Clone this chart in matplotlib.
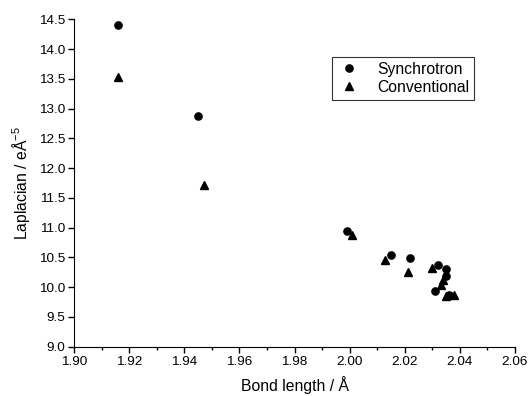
import matplotlib
matplotlib.use('Agg')
import matplotlib.pyplot as plt
from matplotlib.ticker import MultipleLocator

plt.rcParams['font.family'] = ['Liberation Sans', 'DejaVu Sans']
plt.rcParams['mathtext.fontset'] = 'custom'
plt.rcParams['mathtext.rm'] = 'Liberation Sans'

# Synchrotron data (circles)
sync_x = [1.916, 1.945, 1.999, 2.015, 2.022, 2.032, 2.035, 2.035, 2.031, 2.036]
sync_y = [14.41, 12.88, 10.95, 10.54, 10.49, 10.38, 10.30, 10.18, 9.94, 9.87]

# Conventional data (triangles)
conv_x = [1.916, 1.947, 2.001, 2.013, 2.021, 2.030, 2.034, 2.033, 2.035, 2.038]
conv_y = [13.53, 11.71, 10.88, 10.46, 10.25, 10.32, 10.12, 10.04, 9.86, 9.87]

fig = plt.figure(figsize=(5.29, 3.96), dpi=100)
ax = fig.add_axes([0.140, 0.1245, 0.8335, 0.8265])

ax.plot(sync_x, sync_y, 'o', color='black', markersize=5.2, label='Synchrotron')
ax.plot(conv_x, conv_y, '^', color='black', markersize=5.5, label='Conventional')

ax.set_xlim(1.90, 2.06)
ax.set_ylim(9.0, 14.5)
ax.xaxis.set_major_locator(MultipleLocator(0.02))
ax.xaxis.set_minor_locator(MultipleLocator(0.01))
ax.yaxis.set_major_locator(MultipleLocator(0.5))
ax.xaxis.set_major_formatter(plt.FormatStrFormatter('%.2f'))
ax.yaxis.set_major_formatter(plt.FormatStrFormatter('%.1f'))

ax.spines['top'].set_visible(False)
ax.spines['right'].set_visible(False)
ax.tick_params(axis='both', which='major', direction='out', length=4.5, width=1, labelsize=9.7, pad=2)
ax.tick_params(axis='both', which='minor', direction='out', length=2.5, width=1)

ax.set_xlabel('Bond length / Å', fontsize=11.3, labelpad=6)
ax.set_ylabel('Laplacian / eÅ$^{-5}$', fontsize=11.3, labelpad=5)

leg = ax.legend(loc='upper left', bbox_to_anchor=(0.585, 0.885), fontsize=11.3,
                frameon=True, fancybox=False, edgecolor='black', handletextpad=1.0,
                borderpad=0.3, labelspacing=0.2, handlelength=1.6, borderaxespad=0)
leg.get_frame().set_linewidth(0.8)

plt.savefig('out.png', dpi=100)
